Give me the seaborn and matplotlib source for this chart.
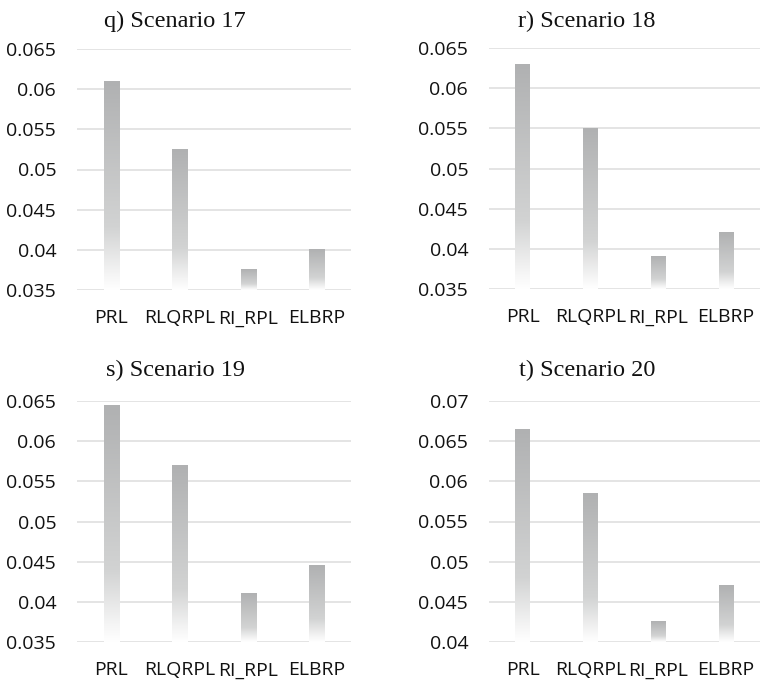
import numpy as np
import pandas as pd
import matplotlib
matplotlib.use("Agg")
import matplotlib.pyplot as plt
from matplotlib.colors import LinearSegmentedColormap
from matplotlib.ticker import FuncFormatter, MultipleLocator
import seaborn as sns

# ---- data ----
categories = ["PRL", "RLQRPL", "RI_RPL", "ELBRP"]
titles = ["q) Scenario 17", "r) Scenario 18", "s) Scenario 19", "t) Scenario 20"]
scenario17 = [0.061, 0.0525, 0.0375, 0.040]
scenario18 = [0.063, 0.055, 0.039, 0.042]
scenario19 = [0.0645, 0.057, 0.041, 0.0445]
scenario20 = [0.0665, 0.0585, 0.0425, 0.047]
ylims = [(0.035, 0.065), (0.035, 0.065), (0.035, 0.065), (0.04, 0.07)]
series = [scenario17, scenario18, scenario19, scenario20]

sns.set_theme(style="white")
plt.rcParams["font.family"] = ["Open Sans", "DejaVu Sans"]

W, H = 760, 684
fig = plt.figure(figsize=(W / 100, H / 100), dpi=100)

boxes = [(77, 49, 351, 290), (489, 48, 760, 289), (77, 401, 351, 642), (489, 401, 760, 642)]
title_pos = [(175, 27), (587, 27), (175, 376), (587, 376)]

cmap = LinearSegmentedColormap.from_list(
    "fade", [(0.0, "#ffffff"), (0.08, "#f4f4f4"), (0.3, "#d2d3d3"), (1.0, "#b0b1b2")]
)
grad = np.linspace(0, 1, 256).reshape(-1, 1)

fmt = FuncFormatter(lambda v, p: ("%.3f" % v).rstrip("0").rstrip("."))

for i, (vals, ttl, yl, box, tp) in enumerate(zip(series, titles, ylims, boxes, title_pos)):
    x0, y0, x1, y1 = box
    ax = fig.add_axes([x0 / W, 1 - y1 / H, (x1 - x0) / W, (y1 - y0) / H])
    df = pd.DataFrame({"method": categories, "value": vals})
    sns.barplot(data=df, x="method", y="value", ax=ax, width=0.22,
                color="#b2b3b4", linewidth=0, zorder=2)
    ax.set_ylim(*yl)
    ax.set_xlim(-0.5, len(categories) - 0.5)
    for patch in ax.patches:
        px, pw, ph = patch.get_x(), patch.get_width(), patch.get_y() + patch.get_height()
        patch.set_visible(False)
        ax.imshow(grad, cmap=cmap, origin="lower", aspect="auto",
                  extent=[px, px + pw, yl[0], ph], zorder=3, interpolation="bilinear")
    ax.set_xlim(-0.5, len(categories) - 0.5)
    ax.set_ylim(*yl)
    ax.yaxis.set_major_locator(MultipleLocator(0.005))
    ax.yaxis.set_major_formatter(fmt)
    ax.grid(axis="y", color="#dcdcdc", linewidth=1.1, zorder=0)
    ax.grid(axis="x", visible=False)
    for s in ax.spines.values():
        s.set_visible(False)
    ax.set_xlabel("")
    ax.set_ylabel("")
    ax.tick_params(axis="y", length=0, pad=15, labelsize=14, labelcolor="#111111")
    ax.tick_params(axis="x", length=0, pad=14, labelsize=14, labelcolor="#111111")
    fig.text(tp[0] / W, 1 - tp[1] / H, ttl, ha="center", va="baseline",
             fontsize=17.5, family=["Liberation Serif", "DejaVu Serif"], color="#111111")

fig.savefig("out.png", dpi=100, facecolor="white")
